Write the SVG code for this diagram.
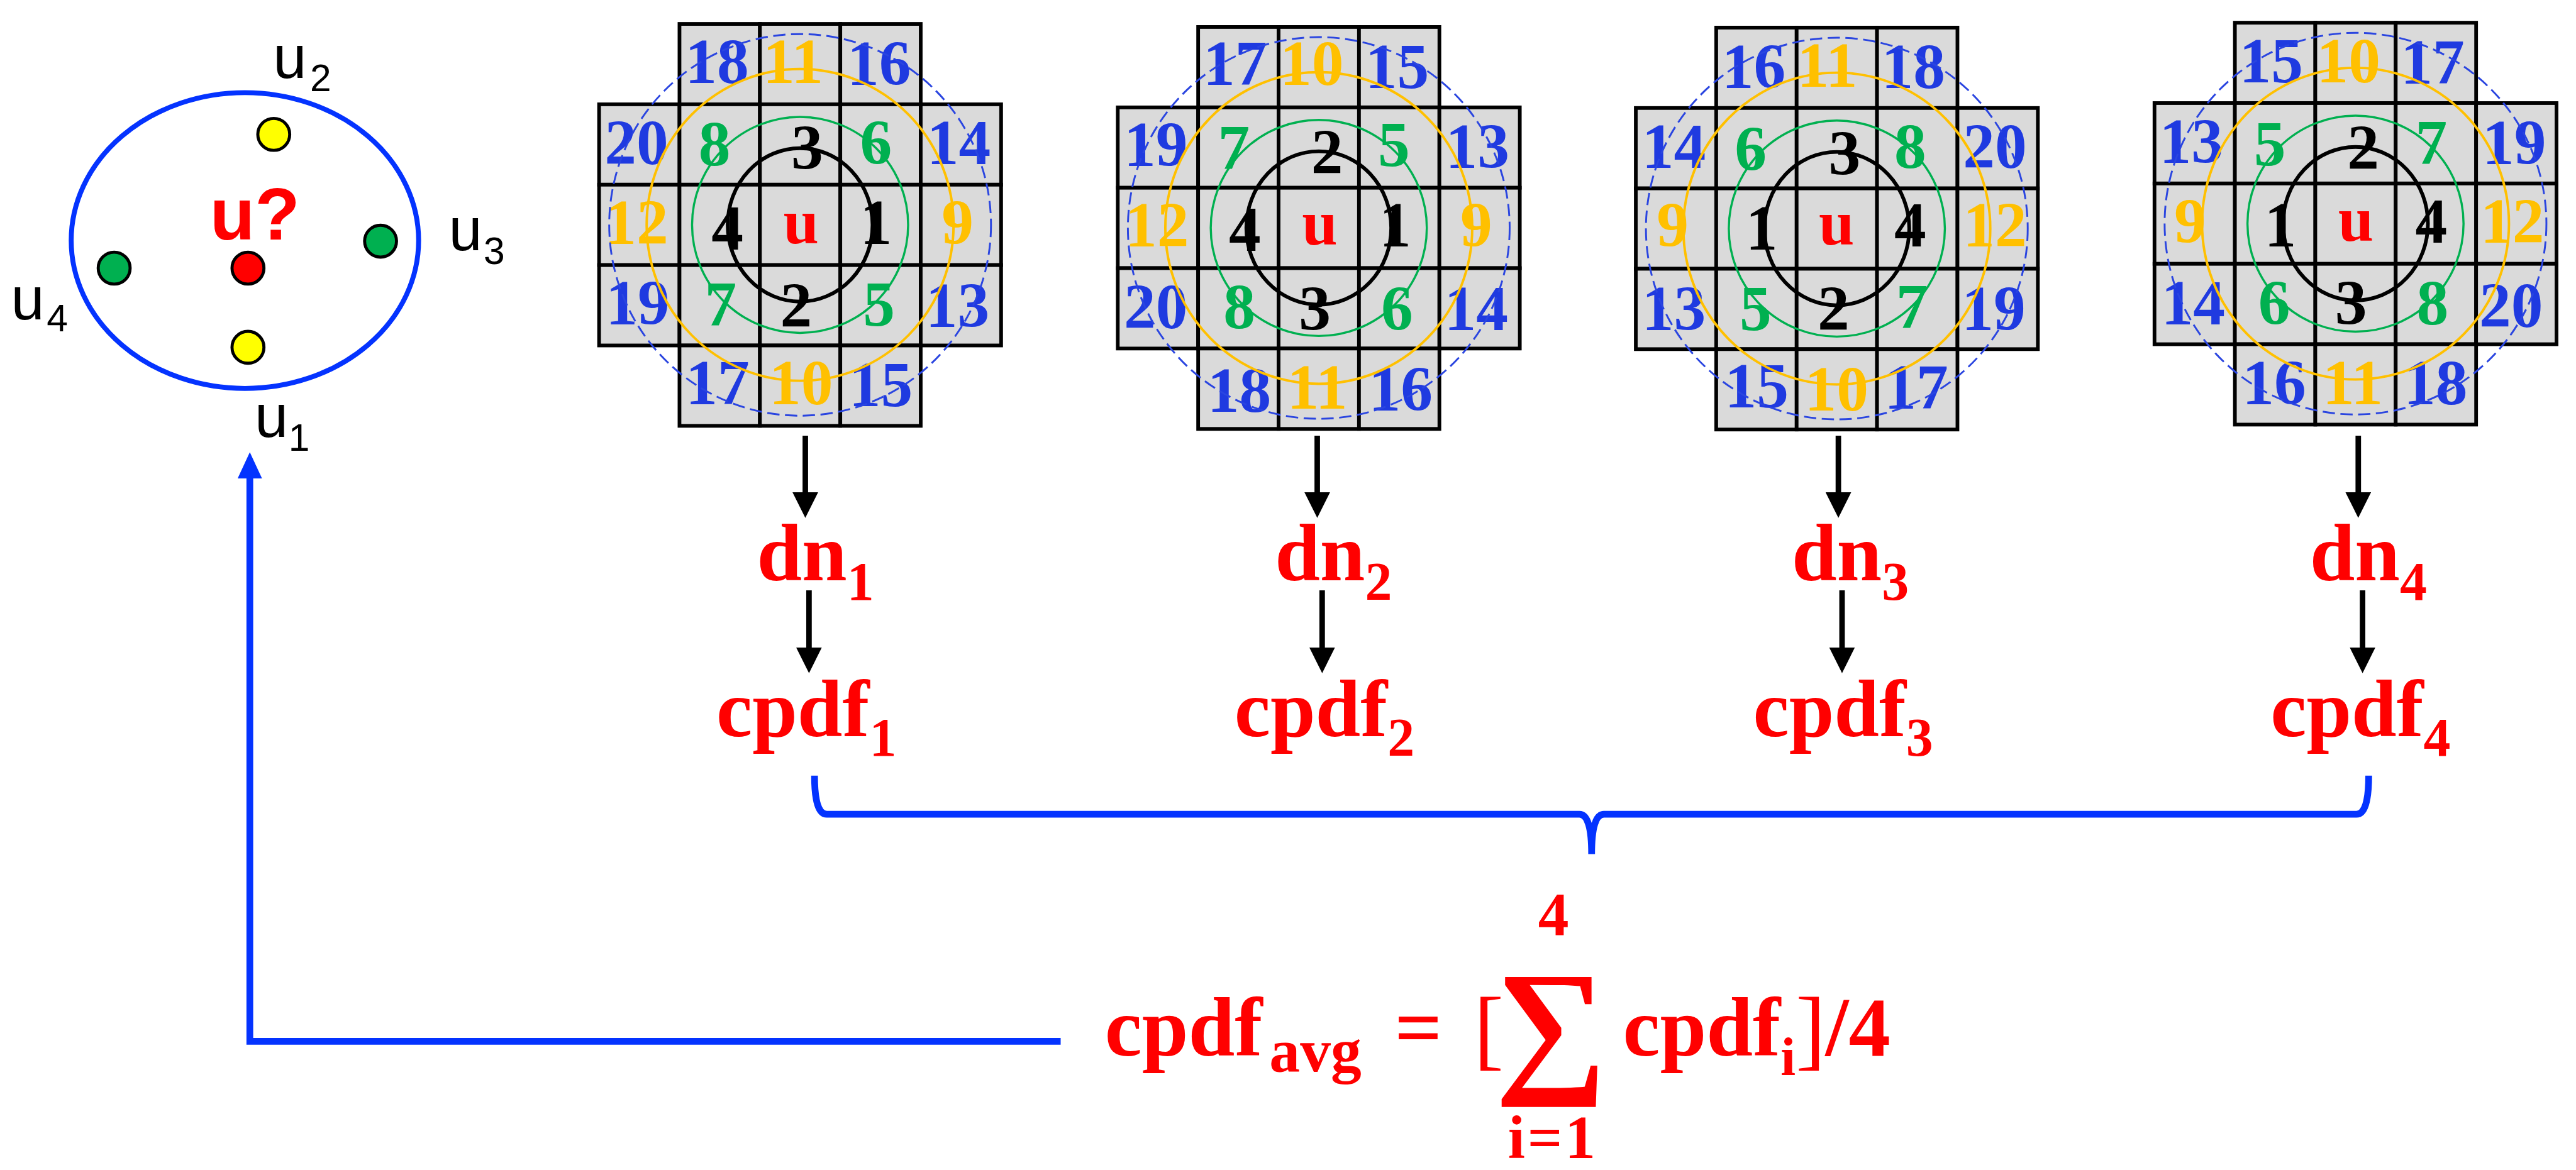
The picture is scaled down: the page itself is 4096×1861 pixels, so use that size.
<svg xmlns="http://www.w3.org/2000/svg" width="4096" height="1861" viewBox="0 0 4096 1861">
<style>
.cell{fill:#dadada;stroke:#000;stroke-width:6}
.n{font-family:'Liberation Serif','Times New Roman',serif;font-weight:bold;font-size:104px;text-anchor:middle}
.b{fill:#1f3ae0}.o{fill:#ffc000}.g{fill:#00b050}.k{fill:#000}.r{fill:#ff0000}
.lab{font-family:'Liberation Serif','Times New Roman',serif;font-weight:bold;font-size:132px;fill:#ff0000}
.fx{font-family:'Liberation Serif','Times New Roman',serif;font-weight:bold;font-size:136px;fill:#ff0000}
.fs{font-family:'Liberation Serif','Times New Roman',serif;font-weight:bold;font-size:100px;fill:#ff0000}
.sans{font-family:'Liberation Sans',Arial,sans-serif;font-size:98px;fill:#000}
.sub{font-size:62px}
.arr{stroke:#000;stroke-width:9;fill:none}
.blue{stroke:#0433ff;stroke-width:11;fill:none}
</style>
<defs>
<marker id="ah" viewBox="0 0 42 42" markerUnits="userSpaceOnUse" markerWidth="42" markerHeight="42" refX="12" refY="21" orient="auto"><path d="M0,0 L42,21 L0,42 z" fill="#000"/></marker>
<marker id="bh" viewBox="0 0 43 40" markerUnits="userSpaceOnUse" markerWidth="43" markerHeight="40" refX="13" refY="20" orient="auto"><path d="M0,0 L43,20 L0,40 z" fill="#0433ff"/></marker>
<g id="cells">
<rect class="cell" x="131" y="0" width="131" height="131"/><rect class="cell" x="262" y="0" width="131" height="131"/><rect class="cell" x="393" y="0" width="131" height="131"/>
<rect class="cell" x="0" y="131" width="131" height="131"/><rect class="cell" x="131" y="131" width="131" height="131"/><rect class="cell" x="262" y="131" width="131" height="131"/><rect class="cell" x="393" y="131" width="131" height="131"/><rect class="cell" x="524" y="131" width="131" height="131"/>
<rect class="cell" x="0" y="262" width="131" height="131"/><rect class="cell" x="131" y="262" width="131" height="131"/><rect class="cell" x="262" y="262" width="131" height="131"/><rect class="cell" x="393" y="262" width="131" height="131"/><rect class="cell" x="524" y="262" width="131" height="131"/>
<rect class="cell" x="0" y="393" width="131" height="131"/><rect class="cell" x="131" y="393" width="131" height="131"/><rect class="cell" x="262" y="393" width="131" height="131"/><rect class="cell" x="393" y="393" width="131" height="131"/><rect class="cell" x="524" y="393" width="131" height="131"/>
<rect class="cell" x="131" y="524" width="131" height="131"/><rect class="cell" x="262" y="524" width="131" height="131"/><rect class="cell" x="393" y="524" width="131" height="131"/>
</g>
<g id="rings" fill="none">
<ellipse cx="327.5" cy="327.5" rx="118" ry="125" stroke="#000" stroke-width="6"/>
<circle cx="327.5" cy="327.5" r="176" stroke="#00b050" stroke-width="3.5"/>
<ellipse cx="327.5" cy="327.5" rx="250" ry="254" stroke="#ffc000" stroke-width="4"/>
<circle cx="327.5" cy="327.5" r="311" stroke="#2a45e0" stroke-width="3" stroke-dasharray="20 9"/>
</g>
</defs>
<rect width="4096" height="1861" fill="#fff"/>
<g transform="scale(0.976)">

<g id="cluster">
<ellipse cx="399" cy="392" rx="283" ry="241" fill="none" stroke="#0433ff" stroke-width="8"/>
<circle cx="446" cy="219" r="26" fill="#ffff00" stroke="#000" stroke-width="5"/>
<circle cx="404" cy="437" r="26" fill="#ff0000" stroke="#000" stroke-width="5"/>
<circle cx="186" cy="437" r="26" fill="#00b050" stroke="#000" stroke-width="5"/>
<circle cx="620" cy="393" r="26" fill="#00b050" stroke="#000" stroke-width="5"/>
<circle cx="404" cy="566" r="26" fill="#ffff00" stroke="#000" stroke-width="5"/>
<text x="342" y="390" style="font-family:'Liberation Sans',Arial,sans-serif;font-weight:bold;font-size:120px;fill:#ff0000">u?</text>
<text class="sans" x="445" y="127">u</text><text class="sans sub" x="505" y="149">2</text>
<text class="sans" x="731" y="408">u</text><text class="sans sub" x="788" y="430">3</text>
<text class="sans" x="18" y="520">u</text><text class="sans sub" x="76" y="540">4</text>
<text class="sans" x="415" y="712">u</text><text class="sans sub" x="470" y="735">1</text>
</g>

<g id="grid1">
<use href="#cells" x="976" y="39"/>
<text class="n b" x="1168" y="135">18</text><text class="n o" x="1292" y="135">11</text><text class="n b" x="1432" y="138">16</text>
<text class="n b" x="1037" y="267">20</text><text class="n g" x="1164" y="269">8</text><text class="n k" x="1315" y="276">3</text><text class="n g" x="1427" y="267">6</text><text class="n b" x="1562" y="267">14</text>
<text class="n o" x="1037" y="398">12</text><text class="n k" x="1185" y="407">4</text><text class="n r" x="1305" y="397">u</text><text class="n k" x="1427" y="398">1</text><text class="n o" x="1560" y="398">9</text>
<text class="n b" x="1039" y="529">19</text><text class="n g" x="1174" y="531">7</text><text class="n k" x="1297" y="533">2</text><text class="n g" x="1432" y="531">5</text><text class="n b" x="1560" y="533">13</text>
<text class="n b" x="1169" y="659">17</text><text class="n o" x="1305" y="659">10</text><text class="n b" x="1435" y="662">15</text>
<use href="#rings" x="976" y="39"/>
</g>

<g id="grid2">
<use href="#cells" x="1821" y="44"/>
<text class="n b" x="2012" y="138">17</text><text class="n o" x="2137" y="138">10</text><text class="n b" x="2276" y="143">15</text>
<text class="n b" x="1883" y="271">19</text><text class="n g" x="2010" y="276">7</text><text class="n k" x="2162" y="283">2</text><text class="n g" x="2271" y="271">5</text><text class="n b" x="2407" y="274">13</text>
<text class="n o" x="1885" y="402">12</text><text class="n k" x="2028" y="409">4</text><text class="n r" x="2150" y="399">u</text><text class="n k" x="2273" y="402">1</text><text class="n o" x="2405" y="402">9</text>
<text class="n b" x="1883" y="535">20</text><text class="n g" x="2019" y="535">8</text><text class="n k" x="2142" y="538">3</text><text class="n g" x="2276" y="538">6</text><text class="n b" x="2405" y="538">14</text>
<text class="n b" x="2019" y="671">18</text><text class="n o" x="2146" y="666">11</text><text class="n b" x="2282" y="669">16</text>
<use href="#rings" x="1821" y="44"/>
</g>

<g id="grid3">
<use href="#cells" x="2665" y="45"/>
<text class="n b" x="2857" y="143">16</text><text class="n o" x="2977" y="141">11</text><text class="n b" x="3117" y="143">18</text>
<text class="n b" x="2727" y="274">14</text><text class="n g" x="2852" y="278">6</text><text class="n k" x="3005" y="285">3</text><text class="n g" x="3112" y="274">8</text><text class="n b" x="3250" y="274">20</text>
<text class="n o" x="2725" y="402">9</text><text class="n k" x="2870" y="407">1</text><text class="n r" x="2992" y="399">u</text><text class="n k" x="3112" y="402">4</text><text class="n o" x="3250" y="402">12</text>
<text class="n b" x="2727" y="538">13</text><text class="n g" x="2860" y="538">5</text><text class="n k" x="2987" y="538">2</text><text class="n g" x="3115" y="535">7</text><text class="n b" x="3248" y="538">19</text>
<text class="n b" x="2862" y="664">15</text><text class="n o" x="2992" y="669">10</text><text class="n b" x="3122" y="666">17</text>
<use href="#rings" x="2665" y="45"/>
</g>

<g id="grid4">
<use href="#cells" x="3510" y="37"/>
<text class="n b" x="3700" y="134">15</text><text class="n o" x="3826" y="134">10</text><text class="n b" x="3963" y="136">17</text>
<text class="n b" x="3570" y="265">13</text><text class="n g" x="3698" y="269">5</text><text class="n k" x="3850" y="276">2</text><text class="n g" x="3961" y="267">7</text><text class="n b" x="4096" y="267">19</text>
<text class="n o" x="3568" y="395">9</text><text class="n k" x="3715" y="402">1</text><text class="n r" x="3838" y="392">u</text><text class="n k" x="3961" y="395">4</text><text class="n o" x="4093" y="395">12</text>
<text class="n b" x="3573" y="529">14</text><text class="n g" x="3705" y="529">6</text><text class="n k" x="3830" y="529">3</text><text class="n g" x="3963" y="529">8</text><text class="n b" x="4091" y="533">20</text>
<text class="n b" x="3705" y="659">16</text><text class="n o" x="3833" y="659">11</text><text class="n b" x="3968" y="659">18</text>
<use href="#rings" x="3510" y="37"/>
</g>

<g id="dn1"><text class="lab" x="1233" y="946">dn<tspan dy="31" font-size="88">1</tspan></text></g>
<g id="dn2"><text class="lab" x="2077" y="946">dn<tspan dy="31" font-size="88">2</tspan></text></g>
<g id="dn3"><text class="lab" x="2919" y="946">dn<tspan dy="31" font-size="88">3</tspan></text></g>
<g id="dn4"><text class="lab" x="3763" y="946">dn<tspan dy="31" font-size="88">4</tspan></text></g>
<g id="cpdf1"><text class="lab" x="1167" y="1200">cpdf<tspan dy="32" font-size="88">1</tspan></text></g>
<g id="cpdf2"><text class="lab" x="2011" y="1200">cpdf<tspan dy="32" font-size="88">2</tspan></text></g>
<g id="cpdf3"><text class="lab" x="2856" y="1200">cpdf<tspan dy="32" font-size="88">3</tspan></text></g>
<g id="cpdf4"><text class="lab" x="3699" y="1200">cpdf<tspan dy="32" font-size="88">4</tspan></text></g>

<g id="formula">
<text class="fx" x="1800" y="1720">cpdf</text>
<text class="fs" x="2068" y="1746">avg</text>
<text class="fx" x="2272" y="1720">=</text>
<text x="2401" y="1725" style="font-family:'Liberation Serif','Times New Roman',serif;font-size:146px;fill:#ff0000">[</text>
<text transform="translate(2526,1752) scale(1.05,1)" x="0" y="0" text-anchor="middle" style="font-family:'Liberation Serif','Times New Roman',serif;font-weight:bold;font-size:244px;fill:#ff0000">∑</text>
<text class="fs" x="2531" y="1524" text-anchor="middle">4</text>
<text class="fs" x="2530" y="1887" text-anchor="middle" letter-spacing="4">i=1</text>
<text class="fx" x="2644" y="1720">cpdf<tspan dy="32" font-size="88">i</tspan><tspan dy="-27" font-weight="normal" font-size="146">]</tspan><tspan dy="-5">/4</tspan></text>
</g>

<g id="connectors">
<line class="arr" x1="1312" y1="710" x2="1312" y2="814" marker-end="url(#ah)"/>
<line class="arr" x1="2146" y1="710" x2="2146" y2="814" marker-end="url(#ah)"/>
<line class="arr" x1="2995" y1="710" x2="2995" y2="814" marker-end="url(#ah)"/>
<line class="arr" x1="3842" y1="710" x2="3842" y2="814" marker-end="url(#ah)"/>
<line class="arr" x1="1318" y1="962" x2="1318" y2="1067" marker-end="url(#ah)"/>
<line class="arr" x1="2154" y1="962" x2="2154" y2="1067" marker-end="url(#ah)"/>
<line class="arr" x1="3001" y1="962" x2="3001" y2="1067" marker-end="url(#ah)"/>
<line class="arr" x1="3849" y1="962" x2="3849" y2="1067" marker-end="url(#ah)"/>
<path class="blue" d="M1327,1264 Q1327,1327 1347,1327 L2573,1327 Q2593,1327 2593,1392 Q2593,1327 2613,1327 L3839,1327 Q3859,1327 3859,1264"/>
<path class="blue" d="M1728,1697 L407,1697 L407,767" marker-end="url(#bh)"/>
</g>
</g>
</svg>
